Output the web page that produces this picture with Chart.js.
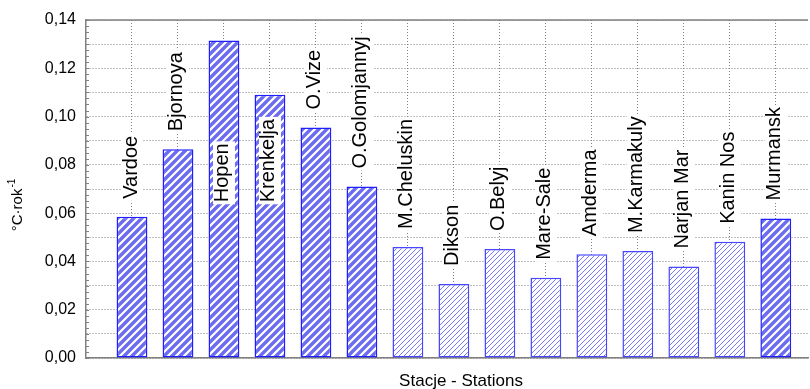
<!DOCTYPE html>
<html>
<head>
<meta charset="utf-8">
<script src="https://cdn.jsdelivr.net/npm/chart.js@4/dist/chart.umd.min.js"></script>
<style>
  html, body { margin: 0; padding: 0; background: #fff; }
  #wrap { width: 810px; height: 389px; }
</style>
</head>
<body>
<div id="wrap"><canvas id="c"></canvas></div>
<script>
// Station names, in order along the x axis
const stations = ['Vardoe', 'Bjornoya', 'Hopen', 'Krenkelja', 'O.Vize', 'O.Golomjannyj',
  'M.Cheluskin', 'Dikson', 'O.Belyj', 'Mare-Sale', 'Amderma', 'M.Karmakuly',
  'Narjan Mar', 'Kanin Nos', 'Murmansk'];
// Temperature trend, °C per year
const trend = [0.0585, 0.0865, 0.1315, 0.109, 0.0955, 0.071,
  0.046, 0.0307, 0.0451, 0.0332, 0.043, 0.0443,
  0.0379, 0.0481, 0.0578];
// Bars drawn with the bold hatch (the rest use the fine hatch)
const boldHatch = [true, true, true, true, true, true,
  false, false, false, false, false, false,
  false, false, true];
// Y axis: grid every 0.01, labels every 0.02
const yGrid = [0, 0.01, 0.02, 0.03, 0.04, 0.05, 0.06, 0.07, 0.08, 0.09, 0.10, 0.11, 0.12, 0.13, 0.14];
const yTickLabels = ['0,00', '', '0,02', '', '0,04', '', '0,06', '', '0,08', '', '0,10', '', '0,12', '', '0,14'];
const yTitle = '°C·rok';
const yTitleSup = '-1';
const xTitle = 'Stacje - Stations';

const FONT = '"Liberation Sans", Arial, sans-serif';

// Diagonal "/" hatch: tile holds several stripes so the repeat is seamless
function hatch(period, count, lineW, color) {
  const size = period * count;
  const c = document.createElement('canvas');
  c.width = c.height = size;
  const g = c.getContext('2d');
  g.fillStyle = '#fff';
  g.fillRect(0, 0, size, size);
  g.strokeStyle = color;
  g.lineWidth = lineW;
  g.beginPath();
  for (let k = -1; k <= 2 * count + 1; k++) {
    const d = k * period;
    g.moveTo(d + 4, -4);
    g.lineTo(d - size - 4, size + 4);
  }
  g.stroke();
  return g.createPattern(c, 'repeat');
}
const boldFill = hatch(8, 4, 3.4, 'rgb(108,108,240)');
const fineFill = hatch(5, 6, 1, 'rgb(120,120,255)');

// Rotated station names above the bars (inside the bar when there is no room)
const stationLabels = {
  id: 'stationLabels',
  afterDatasetsDraw(chart) {
    const { ctx, chartArea } = chart;
    const y = chart.scales.y;
    const meta = chart.getDatasetMeta(0);
    ctx.save();
    ctx.font = '20px ' + FONT;
    ctx.textBaseline = 'middle';
    ctx.textAlign = 'left';
    meta.data.forEach((bar, i) => {
      const txt = stations[i];
      const w = ctx.measureText(txt).width;
      let start = bar.y - 18;
      if (start - w - 2 < chartArea.top + 2) start = y.getPixelForValue(0.0645);
      ctx.fillStyle = '#fff';
      ctx.fillRect(bar.x - 11, start - w - 2, 22, w + 4);
      ctx.save();
      ctx.translate(bar.x - 1, start);
      ctx.rotate(-Math.PI / 2);
      ctx.fillStyle = '#000';
      ctx.fillText(txt, 0, 0);
      ctx.restore();
    });
    ctx.restore();
  },
  afterDraw(chart) {
    const { ctx, chartArea } = chart;
    const y = chart.scales.y;
    ctx.save();
    // solid frame line along the top
    ctx.strokeStyle = '#808080';
    ctx.lineWidth = 1.5;
    ctx.beginPath();
    ctx.moveTo(chartArea.left, chartArea.top);
    ctx.lineTo(chartArea.right, chartArea.top);
    ctx.stroke();
    // minor ticks on the value axis
    ctx.lineWidth = 1;
    ctx.beginPath();
    for (let v = 0; v <= 0.14 + 1e-9; v += 0.0025) {
      const py = Math.round(y.getPixelForValue(v)) + 0.5;
      ctx.moveTo(chartArea.left, py);
      ctx.lineTo(chartArea.left + 3, py);
    }
    ctx.stroke();
    // axis titles
    ctx.fillStyle = '#000';
    ctx.font = '17px ' + FONT;
    ctx.textAlign = 'center';
    ctx.textBaseline = 'alphabetic';
    ctx.fillText(xTitle, 461, 386);

    ctx.translate(22, 205);
    ctx.rotate(-Math.PI / 2);
    ctx.font = '15px ' + FONT;
    const wMain = ctx.measureText(yTitle).width;
    ctx.font = '10px ' + FONT;
    const wSup = ctx.measureText(yTitleSup).width;
    const x0 = -(wMain + wSup + 1) / 2;
    ctx.textAlign = 'left';
    ctx.font = '15px ' + FONT;
    ctx.fillText(yTitle, x0, 0);
    ctx.font = '10px ' + FONT;
    ctx.fillText(yTitleSup, x0 + wMain + 1, -7);
    ctx.restore();
  }
};

new Chart(document.getElementById('c'), {
  type: 'bar',
  data: {
    datasets: [{
      data: trend.map((v, i) => ({ x: i + 1, y: v })),
      backgroundColor: boldHatch.map(b => b ? boldFill : fineFill),
      borderColor: boldHatch.map(b => b ? 'rgb(30,30,255)' : 'rgb(70,70,255)'),
      borderWidth: 1.5,
      borderSkipped: false,
      categoryPercentage: 1,
      barPercentage: 0.67
    }]
  },
  options: {
    responsive: true,
    maintainAspectRatio: false,
    animation: false,
    devicePixelRatio: 1,
    layout: { padding: { top: 20, right: 2, left: 0, bottom: 0 } },
    plugins: { legend: { display: false }, tooltip: { enabled: false } },
    scales: {
      x: {
        type: 'linear',
        offset: false,
        min: 0,
        max: 15.7,
        afterBuildTicks: s => { s.ticks = stations.map((_, i) => ({ value: i + 1 })); },
        afterFit: s => { s.height = 31; },
        ticks: { display: false },
        grid: { offset: false, color: '#808080', lineWidth: 1, drawTicks: false },
        border: { display: true, color: '#808080', width: 1.5, dash: [1, 2] }
      },
      y: {
        min: 0,
        max: 0.14,
        afterBuildTicks: s => { s.ticks = yGrid.map(v => ({ value: v })); },
        afterFit: s => { s.width = 86; },
        ticks: {
          padding: 10,
          color: '#000',
          font: { family: FONT, size: 16 },
          callback: (v, i) => yTickLabels[i]
        },
        grid: { color: '#808080', lineWidth: 1, drawTicks: false },
        border: { display: true, color: '#808080', width: 1.5, dash: [1, 2] }
      }
    }
  },
  plugins: [stationLabels]
});
</script>
</body>
</html>
